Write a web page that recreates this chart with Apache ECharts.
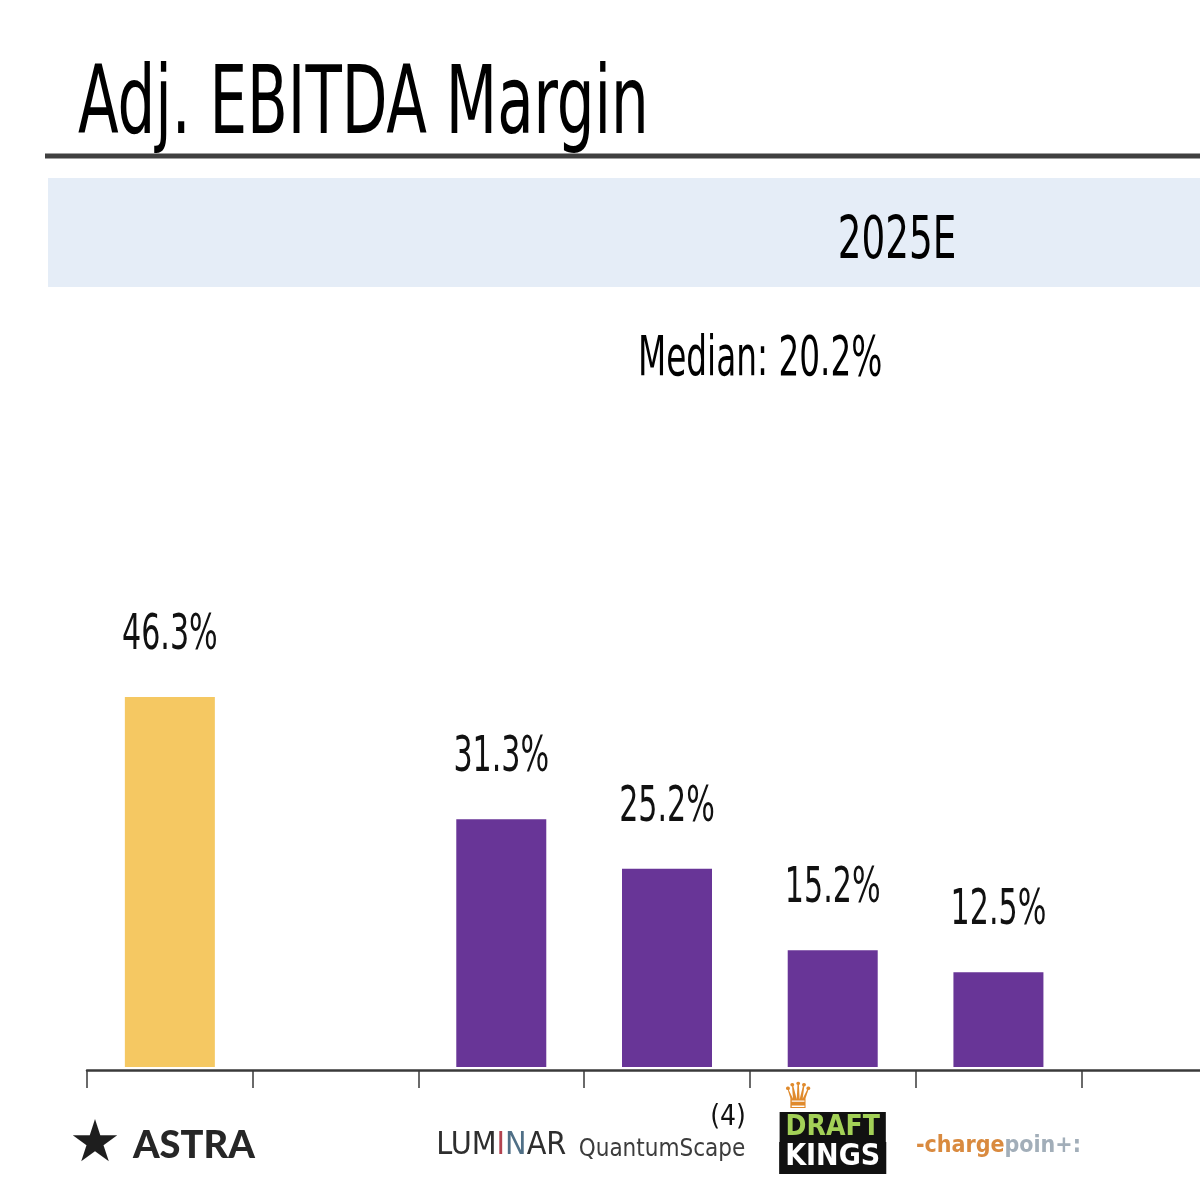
<!DOCTYPE html>
<html>
<head>
<meta charset="utf-8">
<script src="https://cdn.jsdelivr.net/npm/echarts@6/dist/echarts.min.js"></script>
<style>
  html, body { margin: 0; padding: 0; background: #ffffff; }
  #chart { width: 1200px; height: 1200px; }
</style>
</head>
<body>
<div id="chart"></div>
<script>
// categories (two empty slots, as in the source deck)
const companies = ["Astra", "gap1", "Luminar", "QuantumScape", "DraftKings", "ChargePoint", "gap2"];
const margins = [46.3, null, 31.3, 25.2, 15.2, 12.5, null];
const highlighted = "Astra";

const titleText = "Adj. EBITDA Margin";
const periodText = "2025E";
const medianText = "Median: 20.2%";

const COND = '"DejaVu Sans Condensed", "DejaVu Sans", sans-serif';

function logoLabel(name) {
  switch (name) {
    case "Astra":
      return "{star|\u2605}{astra|ASTRA}";
    case "Luminar":
      return "{lum|LUM}{lumI|I}{lumN|N}{lum|AR}";
    case "QuantumScape":
      return "{sup|(4)}\n{qs|QuantumScape}\n{sp2| }";
    case "DraftKings":
      return "{crown|\u265B}\n{dk1|DRAFT}\n{dk2|KINGS}\n{sp| }";
    case "ChargePoint":
      return "{cp1|-charge}{cp2|poin+:}";
    default:
      return "";
  }
}

// value labels drawn through the axes, condensed horizontally
function renderValueLabel(params, api) {
  const v = api.value(1);
  if (isNaN(v)) return null;
  const pt = api.coord([api.value(0), v]);
  return {
    type: "text",
    x: pt[0],
    y: pt[1] - 61,
    scaleX: 0.67,
    silent: true,
    style: {
      text: v.toFixed(1) + "%",
      font: "50px " + COND,
      fill: "#111111",
      align: "center",
      verticalAlign: "middle",
    },
  };
}

const chart = echarts.init(document.getElementById("chart"));

chart.setOption({
  backgroundColor: "#ffffff",
  animation: false,
  grid: {
    left: 87,
    top: 585.5,
    width: 1160,
    height: 481.5,
    outerBoundsMode: "none",
  },
  xAxis: {
    type: "category",
    data: companies,
    offset: 3,
    axisLine: { lineStyle: { color: "#3a3a3a", width: 2.5 } },
    axisTick: { show: true, length: 18, lineStyle: { color: "#3a3a3a", width: 1.5 } },
    axisLabel: {
      interval: 0,
      margin: 76,
      verticalAlign: "middle",
      formatter: logoLabel,
      rich: {
        star: { fontSize: 58, color: "#1e1e1e", fontFamily: "DejaVu Sans", padding: [0, 12, 0, 0] },
        astra: { fontSize: 38, fontWeight: 900, color: "#262626", fontFamily: "Lato, sans-serif", padding: [0, 16, 0, 0] },
        lum: { fontSize: 32, color: "#2e2e2e", fontFamily: COND },
        lumI: { fontSize: 32, color: "#b2434f", fontFamily: COND },
        lumN: { fontSize: 32, color: "#4f6f86", fontFamily: COND },
        sup: { fontSize: 28, color: "#111111", fontFamily: COND, padding: [0, 0, 0, 122], lineHeight: 32 },
        qs: { fontSize: 24, color: "#3c3c3c", fontFamily: COND, lineHeight: 32, padding: [0, 10, 0, 0] },
        sp2: { fontSize: 10, lineHeight: 24 },
        crown: { fontSize: 36, color: "#e08a2c", lineHeight: 28, padding: [0, 70, 0, 0] },
        dk1: { fontSize: 28, fontWeight: "bold", color: "#a3d157", fontFamily: COND, backgroundColor: "#111111", padding: [2, 6, 0, 6], lineHeight: 30 },
        dk2: { fontSize: 30, fontWeight: "bold", color: "#ffffff", fontFamily: COND, backgroundColor: "#111111", padding: [0, 6, 2, 6], lineHeight: 32 },
        sp: { fontSize: 10, lineHeight: 34 },
        cp1: { fontSize: 23, fontWeight: "bold", color: "#d98a3f", fontFamily: COND },
        cp2: { fontSize: 23, fontWeight: "bold", color: "#a2aeb9", fontFamily: COND },
      },
    },
  },
  yAxis: {
    type: "value",
    min: 0.85,
    max: 60,
    show: false,
  },
  series: [
    {
      type: "bar",
      barWidth: 90,
      data: margins.map((v, i) => ({
        value: v,
        itemStyle: { color: companies[i] === highlighted ? "#f5c862" : "#683597" },
      })),
    },
    {
      type: "custom",
      silent: true,
      renderItem: renderValueLabel,
      encode: { x: 0, y: 1 },
      data: margins.map((v, i) => [i, v]),
    },
  ],
  graphic: [
    {
      type: "text",
      x: 78,
      y: 108.5,
      scaleX: 0.703,
      style: { text: titleText, font: "94px " + COND, fill: "#000000", align: "left", verticalAlign: "middle" },
    },
    {
      type: "line",
      shape: { x1: 45, y1: 156, x2: 1200, y2: 156 },
      style: { stroke: "#404040", lineWidth: 5 },
    },
    {
      type: "rect",
      shape: { x: 48, y: 178, width: 1152, height: 109 },
      style: { fill: "#e5edf7" },
    },
    {
      type: "text",
      x: 897,
      y: 243,
      scaleX: 0.716,
      style: { text: periodText, font: "58px " + COND, fill: "#000000", align: "center", verticalAlign: "middle" },
    },
    {
      type: "text",
      x: 638,
      y: 361,
      scaleX: 0.661,
      style: { text: medianText, font: "55px " + COND, fill: "#000000", align: "left", verticalAlign: "middle" },
    },
  ],
});
</script>
</body>
</html>
